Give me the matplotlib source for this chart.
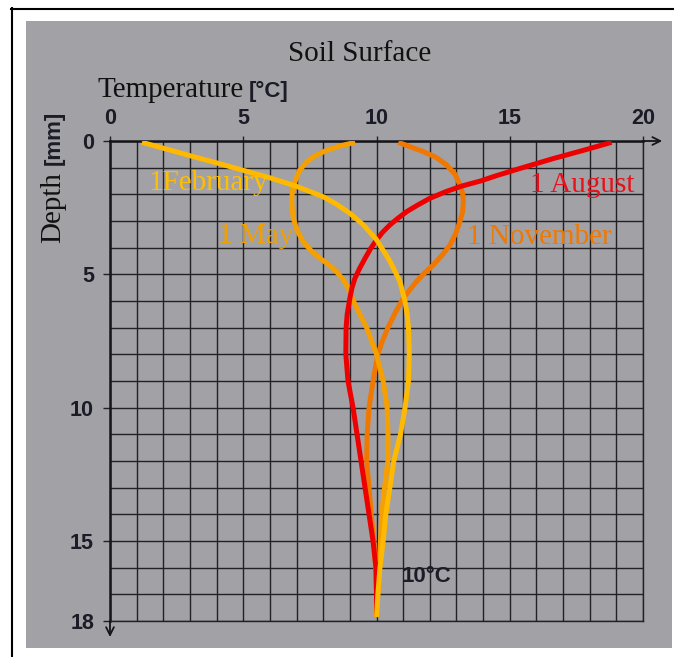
import matplotlib
matplotlib.use("Agg")
import matplotlib.pyplot as plt
from matplotlib.patches import Rectangle
from matplotlib.lines import Line2D

# ---------------- data (temperature in °C vs depth in mm) ----------------
feb_depth = [0.05, 0.27, 0.55, 0.82, 1.1, 1.38, 1.7, 2.09, 2.37, 2.71, 3.14, 3.7, 4.5,
             5.27, 6.02, 6.5, 7.0, 8.0, 9.0, 10.0, 11.0, 12.0, 13.0, 14.0, 15.0, 16.0,
             17.0, 17.85]
feb_temp = [1.2, 2.0, 3.0, 4.0, 5.0, 6.0, 7.0, 8.0, 8.5, 9.0, 9.5, 10.0, 10.5,
            10.88, 11.07, 11.15, 11.2, 11.23, 11.2, 11.07, 10.9, 10.65, 10.5, 10.35, 10.25, 10.13,
            10.05, 10.0]

may_depth = [0.05, 0.18, 0.35, 0.55, 0.78, 1.12, 1.53, 1.85, 2.15, 2.5, 2.9, 3.35, 3.78,
             4.12, 4.4, 4.63, 4.9, 5.2, 5.52, 6.15, 7.0, 8.0, 9.0, 10.0, 11.0, 12.0, 13.0,
             14.0, 15.0, 16.0, 17.0, 17.85]
may_temp = [9.2, 8.65, 8.13, 7.7, 7.38, 7.1, 6.94, 6.85, 6.82, 6.83, 6.88, 7.02, 7.25,
            7.55, 7.88, 8.2, 8.5, 8.75, 8.94, 9.2, 9.63, 10.0, 10.25, 10.4, 10.43, 10.43, 10.3,
            10.2, 10.15, 10.1, 10.05, 10.0]

aug_depth = [0.05, 0.35, 0.66, 1.03, 1.3, 1.5, 1.69, 1.9, 2.15, 2.4, 2.65, 2.9, 3.15, 3.42,
             3.71, 4.05, 4.4, 4.77, 5.15, 5.5, 5.9, 6.5, 7.0, 8.0, 9.0, 10.0, 11.0, 12.0,
             13.0, 14.0, 15.0, 16.0, 17.0, 17.85]
aug_temp = [18.82, 17.76, 16.63, 15.38, 14.5, 13.9, 13.2, 12.6, 12.0, 11.55, 11.13, 10.8, 10.5,
            10.23, 10.0, 9.77, 9.57, 9.37, 9.19, 9.08, 9.0, 8.9, 8.86, 8.85, 8.93, 9.12, 9.27,
            9.42, 9.57, 9.72, 9.87, 9.98, 10.0, 10.0]

nov_depth = [0.05, 0.4, 0.62, 0.9, 1.25, 1.65, 1.95, 2.27, 2.65, 3.02, 3.45, 3.9, 4.27,
             4.65, 4.95, 5.27, 5.58, 5.9, 6.45, 7.0, 7.5, 8.0, 9.0, 10.0, 11.0, 12.0, 13.0,
             14.0, 15.0, 16.0, 17.0, 17.85]
nov_temp = [10.82, 11.76, 12.25, 12.63, 12.95, 13.13, 13.23, 13.26, 13.23, 13.13, 12.98, 12.76,
            12.47, 12.13, 11.8, 11.5, 11.25, 11.0, 10.7, 10.43, 10.22, 10.05, 9.87, 9.72, 9.65,
            9.63, 9.72, 9.8, 9.9, 9.97, 10.0, 10.0]

x_ticks = [0, 5, 10, 15, 20]
y_ticks = [0, 5, 10, 15, 18]
x_grid = list(range(0, 21))
y_grid = list(range(0, 19))

labels = ["1February", "1 May", "1 November", "1 August"]
label_x = [1.43, 4.05, 13.4, 15.76]
label_y = [1.84, 3.82, 3.86, 1.91]

# ---------------- styling ----------------
W, H = 674, 657
GRAY = "#a2a1a6"
GRID = "#222226"
C_FEB = "#ffb900"
C_MAY = "#f5a000"
C_NOV = "#f07800"
C_AUG = "#ee0000"
SERIF = "Liberation Serif"
SANS = "Liberation Sans"
SERIF_SIZE = 21
TICK_SIZE = 15.5


def fx(x):
    return x / W


def fy(y):
    return 1 - y / H


fig = plt.figure(figsize=(W / 100, H / 100), dpi=100)
fig.patch.set_facecolor("white")

# gray panel and black frame lines
fig.add_artist(Rectangle((fx(26), fy(648)), (672 - 26) / W, (648 - 21) / H,
                         transform=fig.transFigure, facecolor=GRAY, edgecolor="none", zorder=0))
fig.add_artist(Line2D([fx(11), 1.0], [fy(8.5), fy(8.5)], transform=fig.transFigure,
                      color="black", lw=1.5, zorder=1))
fig.add_artist(Line2D([fx(11.5), fx(11.5)], [fy(8), 0.0], transform=fig.transFigure,
                      color="black", lw=1.5, zorder=1))

ax = fig.add_axes([fx(110), fy(621), (643 - 110) / W, (621 - 141) / H])
ax.set_facecolor("none")
ax.set_zorder(2)
ax.set_xlim(0, 20)
ax.set_ylim(18, 0)

ax.xaxis.tick_top()
ax.set_xticks(x_ticks)
ax.set_yticks(y_ticks)
ax.set_xticks(x_grid, minor=True)
ax.set_yticks(y_grid, minor=True)
ax.grid(which="both", color=GRID, lw=1.0)
ax.tick_params(which="minor", length=0)
ax.tick_params(axis="x", which="major", direction="out", length=3.6, width=1.0,
               pad=5.0, color=GRID)
ax.tick_params(axis="y", which="major", direction="out", length=5, width=1.0,
               pad=6.5, color=GRID)
for lab in ax.get_xticklabels() + ax.get_yticklabels():
    lab.set_fontfamily(SANS)
    lab.set_fontweight("bold")
    lab.set_fontsize(TICK_SIZE)
    lab.set_color("#1c1c28")

for side in ["top", "left"]:
    ax.spines[side].set_linewidth(1.8)
    ax.spines[side].set_color("#151518")
for side in ["right", "bottom"]:
    ax.spines[side].set_linewidth(1.0)
    ax.spines[side].set_color(GRID)

# axis arrows
ax.annotate("", xy=(20.72, 0), xytext=(20, 0),
            arrowprops=dict(arrowstyle="->", lw=1.3, color="#151518", shrinkA=0, shrinkB=0,
                            mutation_scale=14), annotation_clip=False)
ax.annotate("", xy=(0, 18.6), xytext=(0, 18),
            arrowprops=dict(arrowstyle="->", lw=1.3, color="#151518", shrinkA=0, shrinkB=0,
                            mutation_scale=14), annotation_clip=False)

# curves
lw = 3.6
common = dict(lw=lw, solid_capstyle="butt", solid_joinstyle="round")
ax.plot(nov_temp, nov_depth, color=C_NOV, zorder=3, **common)
ax.plot(may_temp, may_depth, color=C_MAY, zorder=4, **common)
ax.plot(aug_temp, aug_depth, color=C_AUG, zorder=5, **common)
ax.plot(feb_temp, feb_depth, color=C_FEB, zorder=6, **common)

label_colors = ["#ffbe00", "#f0a000", "#f07800", "#e8101a"]
for t, x, y, c in zip(labels, label_x, label_y, label_colors):
    ax.text(x, y, t, color=c, fontfamily=SERIF, fontsize=SERIF_SIZE, ha="left",
            va="baseline", zorder=7)

ax.text(10.96, 16.35, "10°C", color="#1c1c28", fontfamily=SANS, fontweight="bold",
        fontsize=16, ha="left", va="center", zorder=7)

# titles
fig.text(fx(360), fy(61), "Soil Surface", fontfamily=SERIF, fontsize=SERIF_SIZE,
         ha="center", va="baseline", color="#111111")
fig.text(fx(97), fy(97), "Temperature", fontfamily=SERIF, fontsize=SERIF_SIZE,
         ha="left", va="baseline", color="#111111")
fig.text(fx(249), fy(97), "[°C]", fontfamily=SANS, fontweight="bold", fontsize=16,
         ha="left", va="baseline", color="#1c1c28")

# rotated depth label
fig.canvas.draw()
renderer = fig.canvas.get_renderer()
t1 = fig.text(fx(60), fy(243), "Depth", fontfamily=SERIF, fontsize=SERIF_SIZE, rotation=90,
              rotation_mode="anchor", ha="left", va="baseline", color="#111111")
bb = t1.get_window_extent(renderer)
top_px = H - bb.y1  # pixel coordinate from top
fig.text(fx(60), fy(top_px - 7), "[mm]", fontfamily=SANS, fontweight="bold", fontsize=16,
         rotation=90, rotation_mode="anchor", ha="left", va="baseline", color="#1c1c28")

fig.savefig("out.png", dpi=100)
